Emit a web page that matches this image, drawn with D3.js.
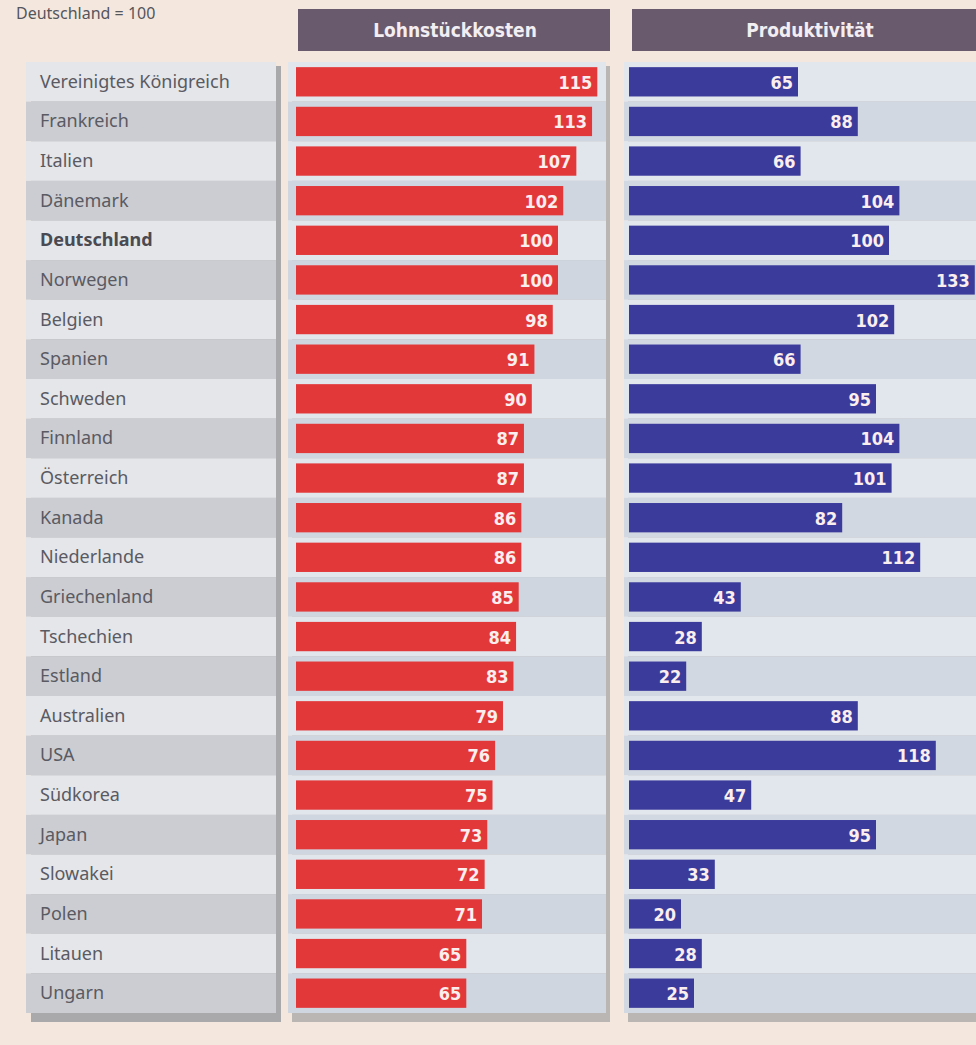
<!DOCTYPE html>
<html>
<head>
<meta charset="utf-8">
<script src="https://cdn.jsdelivr.net/npm/d3@7"></script>
<style>
  body { margin: 0; background: #f3e7de; }
  svg { display: block; }
  .label { font-family: "Noto Sans", "Open Sans", sans-serif; font-size: 18px; fill: #5a5a62; }
  .value { font-family: "DejaVu Sans Condensed", "Liberation Sans Narrow", sans-serif; font-size: 18px; font-weight: bold; fill: #fbeeee; }
  .head  { font-family: "DejaVu Sans Condensed", "Liberation Sans Narrow", sans-serif; font-size: 19px; font-weight: bold; fill: #f2eef2; }
</style>
</head>
<body>
<div id="graph"></div>
<script>
// Data (Deutschland = 100)
var countries = ['Vereinigtes Königreich', 'Frankreich', 'Italien', 'Dänemark', 'Deutschland',
                 'Norwegen', 'Belgien', 'Spanien', 'Schweden', 'Finnland', 'Österreich', 'Kanada',
                 'Niederlande', 'Griechenland', 'Tschechien', 'Estland', 'Australien', 'USA',
                 'Südkorea', 'Japan', 'Slowakei', 'Polen', 'Litauen', 'Ungarn'];
var lohnstueckkosten = [115, 113, 107, 102, 100, 100, 98, 91, 90, 87, 87, 86, 86, 85, 84, 83, 79, 76, 75, 73, 72, 71, 65, 65];
var produktivitaet   = [65, 88, 66, 104, 100, 133, 102, 66, 95, 104, 101, 82, 112, 43, 28, 22, 88, 118, 47, 95, 33, 20, 28, 25];
var headers = ['Lohnstückkosten', 'Produktivität'];
var subtitle = 'Deutschland = 100';

var width  = 976;
var height = 1045;

var svg = d3.select('div#graph')
            .append('svg')
            .attr('width', width)
            .attr('height', height);

// rows
var yScale = d3.scaleBand()
               .domain(countries)
               .range([62, 1013])
               .paddingInner(0);

var redX  = d3.scaleLinear().domain([0, 100]).range([296, 558]);
var blueX = d3.scaleLinear().domain([0, 100]).range([629, 889]);

// subtitle
svg.append('text')
   .attr('x', 16)
   .attr('y', 19)
   .attr('class', 'label')
   .style('font-size', '16px')
   .style('fill', '#55555c')
   .text(subtitle);

// label panel
svg.append('rect')
   .attr('x', 31).attr('y', 66)
   .attr('width', 250).attr('height', 956)
   .attr('fill', '#a9a8ab');

svg.append('g')
   .selectAll('rect')
   .data(countries)
   .enter()
   .append('rect')
   .attr('x', 26)
   .attr('y', d => yScale(d))
   .attr('width', 250)
   .attr('height', yScale.bandwidth())
   .attr('fill', (d, i) => i % 2 ? '#cbcdd2' : '#e4e6ea');

svg.append('g')
   .selectAll('text')
   .data(countries)
   .enter()
   .append('text')
   .attr('class', 'label')
   .attr('x', 40)
   .attr('y', d => yScale(d) + yScale.bandwidth() / 2 + 6)
   .style('font-weight', d => d === 'Deutschland' ? 'bold' : null)
   .style('fill', d => d === 'Deutschland' ? '#4a4a52' : null)
   .text(d => d);

// bar panels
function panel (x0, x1, stripeA, stripeB)
{
    svg.append('rect')
       .attr('x', x0 + 4).attr('y', 66)
       .attr('width', x1 - x0).attr('height', 956)
       .attr('fill', '#b9b6b3');

    svg.append('g')
       .selectAll('rect')
       .data(countries)
       .enter()
       .append('rect')
       .attr('x', x0)
       .attr('y', d => yScale(d))
       .attr('width', x1 - x0)
       .attr('height', yScale.bandwidth())
       .attr('fill', (d, i) => i % 2 ? stripeB : stripeA);
}

panel(288, 606, '#e1e5ec', '#d0d6e0');
panel(624, 990, '#e2e6ed', '#d2d8e2');

// headers
var headBoxes = [[298, 610], [632, 990]];
var headMid   = [455, 810];
headers.forEach(function (h, i)
{
    var b = headBoxes[i];
    svg.append('rect')
       .attr('x', b[0]).attr('y', 9)
       .attr('width', b[1] - b[0]).attr('height', 42)
       .attr('fill', '#6a5a6d');
    svg.append('text')
       .attr('class', 'head')
       .attr('x', headMid[i])
       .attr('y', 37)
       .style('text-anchor', 'middle')
       .text(h);
});

// bars
var barH = yScale.bandwidth() * 0.74;
var barOff = (yScale.bandwidth() - barH) / 2;

function bars (values, xs, colour)
{
    var g = svg.append('g');

    g.selectAll('rect')
     .data(values)
     .enter()
     .append('rect')
     .attr('x', xs(0))
     .attr('y', (d, i) => yScale(countries[i]) + barOff)
     .attr('width', d => xs(d) - xs(0))
     .attr('height', barH)
     .attr('fill', colour);

    g.selectAll('text')
     .data(values)
     .enter()
     .append('text')
     .attr('class', 'value')
     .attr('x', d => xs(d) - 5)
     .attr('y', (d, i) => yScale(countries[i]) + yScale.bandwidth() / 2 + 7)
     .style('text-anchor', 'end')
     .text(d => d);
}

bars(lohnstueckkosten, redX, '#e2383a');
bars(produktivitaet, blueX, '#3b3b9c');
</script>
</body>
</html>
